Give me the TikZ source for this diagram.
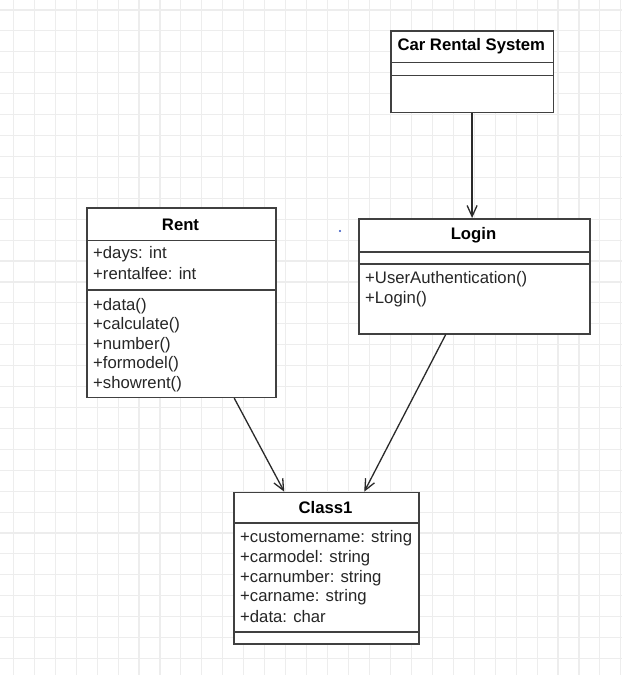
\documentclass[tikz,border=0pt]{standalone}
\usepackage{fontspec}
\setmainfont{Liberation Sans}
\usetikzlibrary{arrows.meta,calc}
\definecolor{boxc}{HTML}{404040}
\definecolor{txtc}{HTML}{262626}
\definecolor{linec}{HTML}{2A2A2A}
\definecolor{gridc}{HTML}{EDEDED}
\definecolor{dotc}{HTML}{3050C0}
\begin{document}
\begin{tikzpicture}[x=1pt,y=-1pt,
  cls/.style={draw=boxc, line width=1.5pt, fill=white, rectangle, inner sep=0pt, anchor=north west},
  divl/.style={draw=boxc, line width=1.5pt},
  ttl/.style={font=\bfseries\fontsize{16.7}{19}\selectfont, text=black, inner sep=0pt},
  itm/.style={font=\fontsize{16.7}{19}\selectfont, text=txtc, anchor=west, inner sep=0pt},
  gridl/.style={draw=gridc, line width=1.1pt},
  dep/.style={line width=1.3pt, draw=linec, -{Straight Barb[length=11pt,width=10pt,line width=1.3pt]}}]
\useasboundingbox (0,0) rectangle (622,675);
\fill[white] (0,0) rectangle (622,675);
% grid
\foreach \i in {0,...,29} \draw[gridl] ({13.3+20.95*\i},0) -- ({13.3+20.95*\i},675);
\foreach \j in {0,...,31} \draw[gridl] (0,{10+20.92*\j}) -- (622,{10+20.92*\j});

% Car Rental System
\node[cls, minimum width=162.7pt, minimum height=81.7pt] (crs) at (390,30) {};
\draw[divl] ($(crs.north west)+(0,32.7)$) -- ($(crs.north east)+(0,32.7)$);
\draw[divl] ($(crs.north west)+(0,45.7)$) -- ($(crs.north east)+(0,45.7)$);
\node[ttl] (crst) at (471.3,46.5) {Car Rental System};

% Rent
\node[cls, minimum width=189pt, minimum height=189.4pt] (rent) at (86,207.3) {};
\draw[divl] ($(rent.north west)+(0,33.4)$) -- ($(rent.north east)+(0,33.4)$);
\draw[divl] ($(rent.north west)+(0,82.7)$) -- ($(rent.north east)+(0,82.7)$);
\node[ttl] (rentt) at (180.5,224.5) {Rent};
\node[itm] (r1) at (93,254.5) {+days: int};
\node[itm] (r2) at (93,274) {+rentalfee: int};
\node[itm] (r3) at (93,306) {+data()};
\node[itm] (r4) at (93,325.5) {+calculate()};
\node[itm] (r5) at (93,345) {+number()};
\node[itm] (r6) at (93,364.5) {+formodel()};
\node[itm] (r7) at (93,384) {+showrent()};

% Login
\node[cls, minimum width=231pt, minimum height=115pt] (login) at (358,218) {};
\draw[divl] ($(login.north west)+(0,34)$) -- ($(login.north east)+(0,34)$);
\draw[divl] ($(login.north west)+(0,46)$) -- ($(login.north east)+(0,46)$);
\node[ttl] (logint) at (473.5,235.5) {Login};
\node[itm] (l1) at (365,279.5) {+UserAuthentication()};
\node[itm] (l2) at (365,299) {+Login()};

% Class1
\node[cls, minimum width=185pt, minimum height=151.3pt] (class1) at (233,491.7) {};
\draw[divl] ($(class1.north west)+(0,31.3)$) -- ($(class1.north east)+(0,31.3)$);
\draw[divl] ($(class1.north west)+(0,140.3)$) -- ($(class1.north east)+(0,140.3)$);
\node[ttl] (class1t) at (325.5,508) {Class1};
\node[itm] (c1) at (240,538.5) {+customername: string};
\node[itm] (c2) at (240,558) {+carmodel: string};
\node[itm] (c3) at (240,578) {+carnumber: string};
\node[itm] (c4) at (240,597.5) {+carname: string};
\node[itm] (c5) at (240,617) {+data: char};

% stray dot
\fill[dotc] (340,231) circle (1.1pt);

% connectors
\draw[dep] (crs.south) -- (crs.south |- login.north);
\draw[dep] ($(rent.south)+(53,0)$) -- ($(class1.north)+(-42,0)$);
\draw[dep] ($(login.south)+(-28.5,0)$) -- ($(class1.north)+(38,0)$);
\end{tikzpicture}
\end{document}
